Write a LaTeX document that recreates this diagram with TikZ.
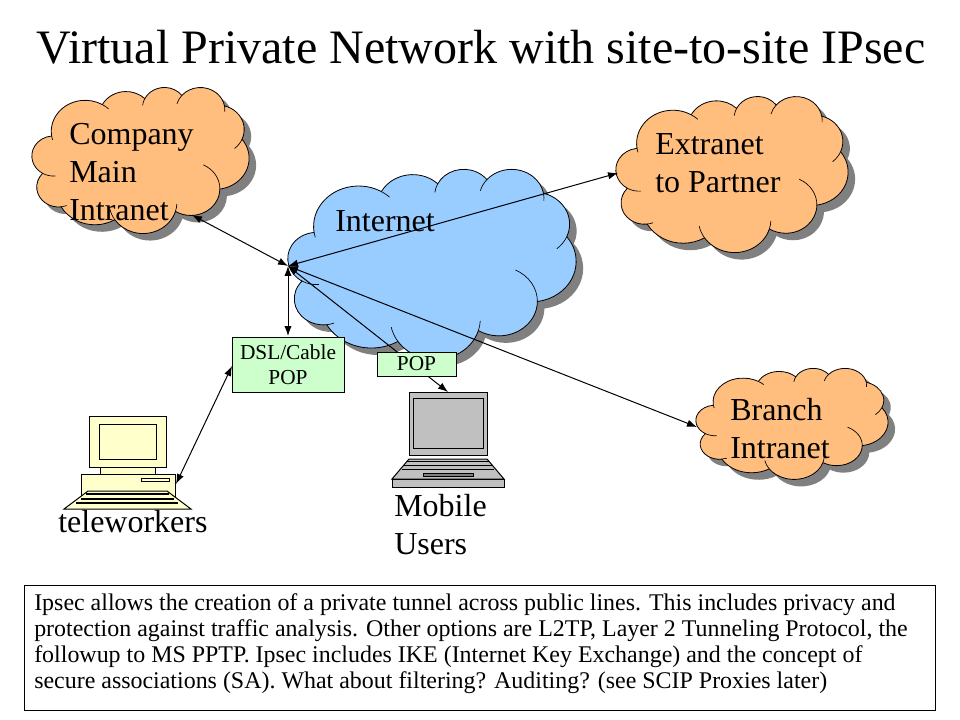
\documentclass[tikz,border=0pt]{standalone}
\usepackage{fontspec}
\setmainfont{Liberation Serif}
\usetikzlibrary{arrows.meta}
\definecolor{cloudorange}{RGB}{255,190,125}
\definecolor{cloudblue}{RGB}{153,204,255}
\definecolor{boxgreen}{RGB}{204,255,204}
\definecolor{pcyellow}{RGB}{255,255,204}
\definecolor{lapgrey}{RGB}{192,192,192}
\tikzset{
	cloudtext/.style={anchor=north west,align=left,inner sep=0pt,font=\fontsize{24}{28.5}\selectfont},
	boxtext/.style={draw,line width=0.75pt,fill=boxgreen,align=center,inner sep=0pt,font=\fontsize{16}{19}\selectfont},
	link/.style={line width=0.75pt,{Latex[length=7.5pt,width=5.5pt]}-{Latex[length=7.5pt,width=5.5pt]}},
	thing/.style={draw,line width=0.75pt},
	crease/.style={line width=0.5pt}
}
% cloud outline on a 432 x 432 grid
\newcommand{\cloudoutline}{(39,143.7) coordinate (jk)
	arc[start angle=172.25,delta angle=128.13,x radius=67.53,y radius=91.9] coordinate (ja)
	arc[start angle=-152.02,delta angle=106.58,x radius=53.33,y radius=72.67] coordinate (jb)
	arc[start angle=-153.48,delta angle=116.15,x radius=43.65,y radius=59.45] coordinate (jc)
	arc[start angle=-139.71,delta angle=129.49,x radius=48.57,y radius=65.95] coordinate (jd)
	arc[start angle=-74.78,delta angle=97.99,x radius=53.33,y radius=72.73] coordinate (je)
	arc[start angle=-37.53,delta angle=119.39,x radius=67.75,y radius=92.2] coordinate (jf)
	arc[start angle=0.46,delta angle=121.53,x radius=57.85,y radius=78.67] coordinate (jg)
	arc[start angle=16.84,delta angle=129.39,x radius=67.52,y radius=92.15] coordinate (jh)
	arc[start angle=58.99,delta angle=91.2,x radius=77.2,y radius=105.43] coordinate (ji)
	arc[start angle=83.31,delta angle=139.8,x radius=43.6,y radius=59.18] coordinate (jj)
	arc[start angle=120.34,delta angle=143.77,x radius=43.45,y radius=59.45] -- cycle}
% x, y, width, height, colour
\newcommand{\cloudshape}[5]{
	\begin{scope}[shift={(#1,#2)},x=0.75pt*#3/432,y=-0.75pt*#4/432]
	\fill[gray,xshift=5.25pt,yshift=-5.25pt] \cloudoutline;
	\filldraw[fill=#5,line width=0.6pt] \cloudoutline;
	\draw[crease] (jk) arc[start angle=172.25,delta angle=-8,x radius=67.53,y radius=91.9];
	\draw[crease] (ja) arc[start angle=-59.62,delta angle=13,x radius=67.53,y radius=91.9];
	\draw[crease] (jb) arc[start angle=-153.48,delta angle=-20,x radius=43.65,y radius=59.45];
	\draw[crease] (jc) arc[start angle=-139.71,delta angle=-25,x radius=48.57,y radius=65.95];
	\draw[crease] (jd) arc[start angle=-10.22,delta angle=15,x radius=48.57,y radius=65.95];
	\draw[crease] (je) arc[start angle=23.21,delta angle=27,x radius=53.33,y radius=72.73];
	\draw[crease] (jf) arc[start angle=0.46,delta angle=-65,x radius=57.85,y radius=78.67];
	\draw[crease] (jg) arc[start angle=16.84,delta angle=-14,x radius=67.52,y radius=92.15];
	\draw[crease] (jh) arc[start angle=146.23,delta angle=22,x radius=67.52,y radius=92.15];
	\draw[crease] (ji) arc[start angle=83.31,delta angle=-15.06,x radius=43.6,y radius=59.18];
	\draw[crease] (jj) arc[start angle=120.34,delta angle=-34.8,x radius=43.45,y radius=59.45];
	\end{scope}
}

\begin{document}
\begin{tikzpicture}[x=0.75pt,y=-0.75pt]
	\useasboundingbox (0,0) rectangle (960,720);
	\node (title) at (481,47) {\fontsize{36}{40}\selectfont Virtual Private Network with site-to-site IPsec};

	\cloudshape{32}{87}{217}{146}{cloudorange}
	\cloudshape{616}{96}{232}{156}{cloudorange}
	\cloudshape{288}{168.7}{288}{190}{cloudblue}
	\cloudshape{696}{368}{192}{111}{cloudorange}

	\node[cloudtext] (company) at (69,123) {Company\\Main\\Intranet};
	\node[cloudtext] (extranet) at (655,133) {Extranet\\to Partner};
	\node[cloudtext] (internet) at (335,210) {Internet};
	\node[cloudtext] (branch) at (730,398) {Branch\\Intranet};
	\node[cloudtext] (mobile) at (394,494) {Mobile\\Users};
	\node[cloudtext] (tele) at (58,510) {teleworkers};

	% teleworker computer
	\filldraw[thing,fill=pcyellow] (89,416) rectangle (166,467);
	\filldraw[thing,fill=pcyellow] (99,424) rectangle (156,459);
	\filldraw[thing,fill=pcyellow] (100,467) rectangle (155,474);
	\filldraw[thing,fill=pcyellow] (81,474) rectangle (175,497);
	\filldraw[thing,fill=pcyellow] (141,478) rectangle (169,481);
	\filldraw[thing,fill=pcyellow] (88,491) -- (167,491) -- (191,509) -- (64,509) -- cycle;
	\foreach \y/\a/\b in {494/86/169,499/81/174,503/76/178}
		\draw[line width=0.9pt] (\a,\y) -- (\b,\y);

	% mobile computer
	\filldraw[thing,fill=lapgrey] (409,392) rectangle (487,455);
	\filldraw[thing,fill=lapgrey] (413,398) rectangle (483,448);
	\filldraw[thing,fill=lapgrey] (409,459) -- (487,459) -- (504,479) -- (392,479) -- cycle;
	\filldraw[thing,fill=lapgrey] (392,479) rectangle (504,487);
	\foreach \y/\a/\b in {461/407/489,465/404/492,469/402/494}
		\draw[line width=0.75pt] (\a,\y) -- (\b,\y);
	\filldraw[thing,fill=gray] (423,473) rectangle (473,476);

	\coordinate (hub) at (288,266);
	\coordinate (companyend) at (192,215);
	\coordinate (extranetend) at (618,173);
	\coordinate (branchend) at (697,427);
	\coordinate (mobileend) at (448,392);
	\coordinate (teleend) at (176,484);
	\coordinate (dslnorth) at (288,336);
	\coordinate (dslwest) at (232,366);

	\draw[link] (companyend) -- (hub);
	\draw[link] (extranetend) -- (hub);
	\draw[link] (branchend) -- (hub);
	\draw[link] (dslnorth) -- (hub);
	\draw[link] (mobileend) -- (hub);
	\draw[link] (teleend) -- (dslwest);

	\node[boxtext,minimum width=84pt,minimum height=41.25pt] (dsl) at (288,364.5) {DSL/Cable\\POP};
	\node[boxtext,minimum width=59.25pt,minimum height=18pt] (pop) at (416.5,364) {POP};

	\node[draw,line width=0.75pt,minimum width=683.25pt,minimum height=93.75pt,inner sep=0pt] (notebox) at (479.5,647.5) {};
	\node[anchor=north west,align=left,inner sep=0pt,font=\fontsize{17.95}{19.5}\selectfont] (note) at (34,593) {Ipsec allows the creation of a private tunnel across public lines. This includes privacy and\\
protection against traffic analysis. Other options are L2TP, Layer 2 Tunneling Protocol, the\\
followup to MS PPTP. Ipsec includes IKE (Internet Key Exchange) and the concept of\\
secure associations (SA). What about filtering? Auditing? (see SCIP Proxies later)};
\end{tikzpicture}
\end{document}
